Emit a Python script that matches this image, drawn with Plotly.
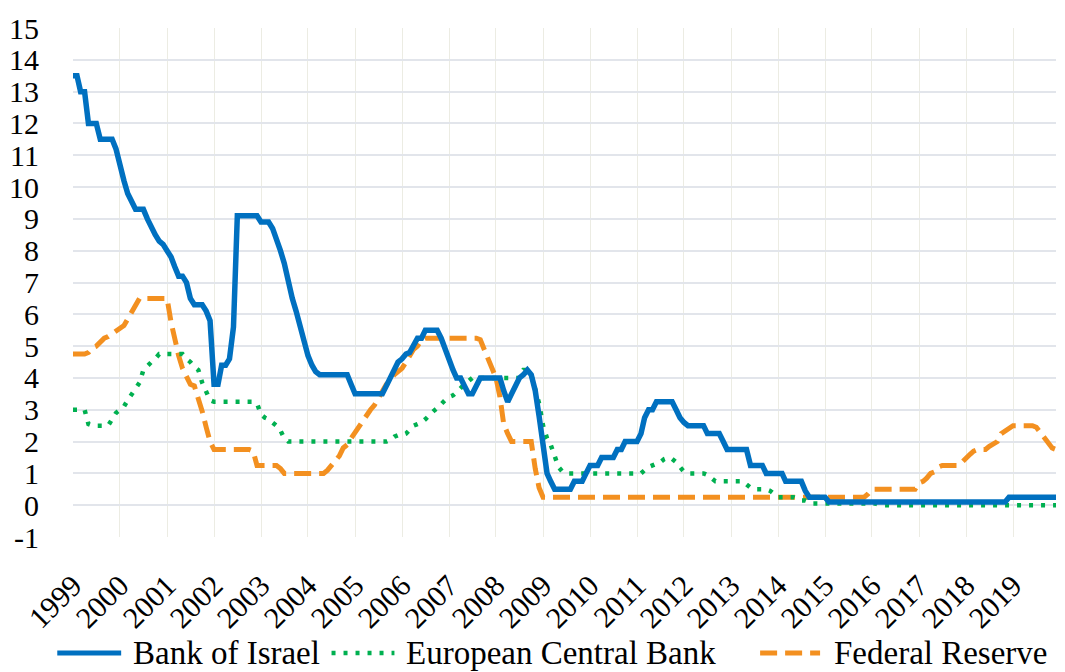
import pandas as pd
import plotly.graph_objects as go

# Monthly policy rates, Jan 1999 - Dec 2019 (12 values per row = one year)
months = pd.date_range("1999-01-01", "2019-12-01", freq="MS")

bank_of_israel = [
    13.5, 13.5, 13.0, 13.0, 12.0, 12.0, 12.0, 11.5, 11.5, 11.5, 11.5, 11.2,   # 1999
    10.6, 10.2, 9.8, 9.5, 9.3, 9.3, 9.3, 9.0, 8.7, 8.5, 8.3, 8.2,             # 2000
    8.0, 7.8, 7.5, 7.2, 7.2, 7.0, 6.5, 6.3, 6.3, 6.3, 6.1, 5.8,               # 2001
    3.8, 3.8, 4.4, 4.4, 4.6, 5.6, 9.1, 9.1, 9.1, 9.1, 9.1, 9.1,               # 2002
    8.9, 8.9, 8.9, 8.7, 8.4, 8.0, 7.6, 7.0, 6.5, 6.1, 5.6, 5.2,               # 2003
    4.7, 4.4, 4.2, 4.1, 4.1, 4.1, 4.1, 4.1, 4.1, 4.1, 4.1, 3.8,               # 2004
    3.5, 3.5, 3.5, 3.5, 3.5, 3.5, 3.5, 3.5, 3.75, 4.0, 4.25, 4.5,             # 2005
    4.6, 4.75, 4.8, 5.0, 5.25, 5.25, 5.5, 5.5, 5.5, 5.5, 5.25, 4.9,           # 2006
    4.5, 4.25, 4.0, 4.0, 3.75, 3.5, 3.5, 3.75, 4.0, 4.0, 4.0, 4.0,            # 2007
    4.0, 4.0, 3.6, 3.25, 3.5, 3.75, 4.0, 4.1, 4.25, 4.1, 3.6, 2.8,            # 2008
    1.9, 1.0, 0.75, 0.5, 0.5, 0.5, 0.5, 0.5, 0.75, 0.75, 0.75, 1.0,           # 2009
    1.25, 1.25, 1.25, 1.5, 1.5, 1.5, 1.5, 1.75, 1.75, 2.0, 2.0, 2.0,          # 2010
    2.0, 2.25, 2.75, 3.0, 3.0, 3.25, 3.25, 3.25, 3.25, 3.25, 3.0, 2.75,       # 2011
    2.6, 2.5, 2.5, 2.5, 2.5, 2.5, 2.25, 2.25, 2.25, 2.25, 2.0, 1.75,          # 2012
    1.75, 1.75, 1.75, 1.75, 1.75, 1.25, 1.25, 1.25, 1.25, 1.0, 1.0, 1.0,      # 2013
    1.0, 1.0, 0.75, 0.75, 0.75, 0.75, 0.75, 0.45, 0.25, 0.25, 0.25, 0.25,     # 2014
    0.25, 0.1, 0.1, 0.1, 0.1, 0.1, 0.1, 0.1, 0.1, 0.1, 0.1, 0.1,              # 2015
    0.1, 0.1, 0.1, 0.1, 0.1, 0.1, 0.1, 0.1, 0.1, 0.1, 0.1, 0.1,               # 2016
    0.1, 0.1, 0.1, 0.1, 0.1, 0.1, 0.1, 0.1, 0.1, 0.1, 0.1, 0.1,               # 2017
    0.1, 0.1, 0.1, 0.1, 0.1, 0.1, 0.1, 0.1, 0.1, 0.1, 0.1, 0.25,              # 2018
    0.25, 0.25, 0.25, 0.25, 0.25, 0.25, 0.25, 0.25, 0.25, 0.25, 0.25, 0.25,   # 2019
]

european_central_bank = [
    3.0, 3.0, 3.0, 3.0, 2.55, 2.5, 2.5, 2.5, 2.5, 2.5, 2.7, 2.9,              # 1999
    3.0, 3.1, 3.3, 3.5, 3.7, 3.85, 4.25, 4.4, 4.5, 4.6, 4.75, 4.75,           # 2000
    4.75, 4.75, 4.75, 4.75, 4.75, 4.6, 4.5, 4.35, 4.25, 3.85, 3.6, 3.3,       # 2001
    3.25, 3.25, 3.25, 3.25, 3.25, 3.25, 3.25, 3.25, 3.25, 3.25, 3.25, 3.2,    # 2002
    2.85, 2.75, 2.7, 2.6, 2.5, 2.35, 2.1, 2.0, 2.0, 2.0, 2.0, 2.0,            # 2003
    2.0, 2.0, 2.0, 2.0, 2.0, 2.0, 2.0, 2.0, 2.0, 2.0, 2.0, 2.0,               # 2004
    2.0, 2.0, 2.0, 2.0, 2.0, 2.0, 2.0, 2.0, 2.0, 2.05, 2.15, 2.2,             # 2005
    2.2, 2.25, 2.35, 2.5, 2.55, 2.6, 2.7, 2.85, 2.95, 3.05, 3.2, 3.3,         # 2006
    3.4, 3.45, 3.55, 3.7, 3.8, 3.9, 4.0, 4.0, 4.0, 4.0, 4.0, 4.0,             # 2007
    4.0, 4.0, 4.0, 4.0, 4.0, 4.0, 4.0, 4.25, 4.25, 4.1, 3.6, 3.2,             # 2008
    2.5, 2.1, 1.9, 1.5, 1.2, 1.05, 1.0, 1.0, 1.0, 1.0, 1.0, 1.0,              # 2009
    1.0, 1.0, 1.0, 1.0, 1.0, 1.0, 1.0, 1.0, 1.0, 1.0, 1.0, 1.0,               # 2010
    1.0, 1.0, 1.1, 1.2, 1.25, 1.3, 1.35, 1.45, 1.5, 1.45, 1.35, 1.2,          # 2011
    1.05, 1.0, 1.0, 1.0, 1.0, 1.0, 0.95, 0.85, 0.75, 0.75, 0.75, 0.75,        # 2012
    0.75, 0.75, 0.75, 0.75, 0.65, 0.55, 0.5, 0.5, 0.5, 0.5, 0.45, 0.35,       # 2013
    0.25, 0.25, 0.25, 0.25, 0.25, 0.2, 0.15, 0.15, 0.1, 0.05, 0.05, 0.05,     # 2014
    0.05, 0.05, 0.05, 0.05, 0.05, 0.05, 0.05, 0.05, 0.05, 0.05, 0.05, 0.05,   # 2015
    0.05, 0.05, 0.0, 0.0, 0.0, 0.0, 0.0, 0.0, 0.0, 0.0, 0.0, 0.0,             # 2016
    0.0, 0.0, 0.0, 0.0, 0.0, 0.0, 0.0, 0.0, 0.0, 0.0, 0.0, 0.0,               # 2017
    0.0, 0.0, 0.0, 0.0, 0.0, 0.0, 0.0, 0.0, 0.0, 0.0, 0.0, 0.0,               # 2018
    0.0, 0.0, 0.0, 0.0, 0.0, 0.0, 0.0, 0.0, 0.0, 0.0, 0.0, 0.0,               # 2019
]

federal_reserve = [
    4.75, 4.75, 4.75, 4.75, 4.8, 4.95, 5.0, 5.15, 5.25, 5.3, 5.4, 5.5,        # 1999
    5.55, 5.65, 5.85, 6.05, 6.3, 6.5, 6.5, 6.5, 6.5, 6.5, 6.5, 6.5,           # 2000
    6.5, 5.75, 5.2, 4.7, 4.3, 4.0, 3.8, 3.75, 3.4, 2.95, 2.45, 2.0,           # 2001
    1.75, 1.75, 1.75, 1.75, 1.75, 1.75, 1.75, 1.75, 1.75, 1.75, 1.7, 1.25,    # 2002
    1.25, 1.25, 1.25, 1.25, 1.25, 1.15, 1.0, 1.0, 1.0, 1.0, 1.0, 1.0,         # 2003
    1.0, 1.0, 1.0, 1.0, 1.0, 1.1, 1.25, 1.35, 1.55, 1.8, 1.9, 2.1,            # 2004
    2.3, 2.45, 2.65, 2.85, 3.0, 3.15, 3.35, 3.55, 3.8, 3.9, 4.1, 4.2,         # 2005
    4.3, 4.5, 4.7, 4.9, 5.0, 5.2, 5.25, 5.25, 5.25, 5.25, 5.25, 5.25,         # 2006
    5.25, 5.25, 5.25, 5.25, 5.25, 5.25, 5.25, 5.25, 5.2, 4.9, 4.6, 4.35,      # 2007
    4.0, 3.4, 2.55, 2.25, 2.0, 2.0, 2.0, 2.0, 2.0, 2.0, 1.15, 0.55,           # 2008
    0.25, 0.25, 0.25, 0.25, 0.25, 0.25, 0.25, 0.25, 0.25, 0.25, 0.25, 0.25,   # 2009
    0.25, 0.25, 0.25, 0.25, 0.25, 0.25, 0.25, 0.25, 0.25, 0.25, 0.25, 0.25,   # 2010
    0.25, 0.25, 0.25, 0.25, 0.25, 0.25, 0.25, 0.25, 0.25, 0.25, 0.25, 0.25,   # 2011
    0.25, 0.25, 0.25, 0.25, 0.25, 0.25, 0.25, 0.25, 0.25, 0.25, 0.25, 0.25,   # 2012
    0.25, 0.25, 0.25, 0.25, 0.25, 0.25, 0.25, 0.25, 0.25, 0.25, 0.25, 0.25,   # 2013
    0.25, 0.25, 0.25, 0.25, 0.25, 0.25, 0.25, 0.25, 0.25, 0.25, 0.25, 0.25,   # 2014
    0.25, 0.25, 0.25, 0.25, 0.25, 0.25, 0.25, 0.25, 0.25, 0.25, 0.25, 0.35,   # 2015
    0.5, 0.5, 0.5, 0.5, 0.5, 0.5, 0.5, 0.5, 0.5, 0.5, 0.5, 0.5,               # 2016
    0.7, 0.75, 0.85, 1.0, 1.05, 1.2, 1.25, 1.25, 1.25, 1.25, 1.25, 1.35,      # 2017
    1.5, 1.6, 1.7, 1.75, 1.75, 1.75, 1.85, 1.95, 2.0, 2.25, 2.35, 2.45,       # 2018
    2.5, 2.5, 2.5, 2.5, 2.5, 2.5, 2.45, 2.3, 2.1, 1.95, 1.8, 1.75,            # 2019
]

series_names = ["Bank of Israel", "European Central Bank", "Federal Reserve"]
y_ticks = list(range(-1, 16))

FONT = "Liberation Serif"
BLUE, GREEN, ORANGE = "#0070C0", "#00B050", "#F39020"

fig = go.Figure()
fig.add_trace(go.Scatter(x=months, y=federal_reserve, name=series_names[2], mode="lines",
                         line=dict(color=ORANGE, width=5, dash="17px,8px")))
fig.add_trace(go.Scatter(x=months, y=european_central_bank, name=series_names[1], mode="lines",
                         line=dict(color=GREEN, width=4.5, dash="4px,8px")))
fig.add_trace(go.Scatter(x=months, y=bank_of_israel, name=series_names[0], mode="lines",
                         line=dict(color=BLUE, width=5.5)))

# manual legend (long line samples like the original)
leg_y = -0.228
legend_items = [
    (series_names[0], BLUE, None, 5, -0.016, 0.049, 0.059),
    (series_names[1], GREEN, "4px,8px", 4.5, 0.263, 0.327, 0.337),
    (series_names[2], ORANGE, "17px,8px", 5, 0.699, 0.760, 0.772),
]
for name, col, dash, w, x0, x1, xt in legend_items:
    line = dict(color=col, width=w)
    if dash:
        line["dash"] = dash
    fig.add_shape(type="line", xref="paper", yref="paper", x0=x0, x1=x1,
                  y0=leg_y, y1=leg_y, line=line)
    fig.add_annotation(xref="paper", yref="paper", x=xt, y=leg_y, text=name,
                       showarrow=False, xanchor="left", yanchor="middle",
                       font=dict(family=FONT, size=33, color="black"))

fig.update_layout(
    width=1065, height=672,
    margin=dict(l=73, r=9, t=28, b=135, autoexpand=False),
    paper_bgcolor="white", plot_bgcolor="white",
    showlegend=False,
    font=dict(family=FONT, color="black"),
)
fig.update_xaxes(
    type="date", range=["1999-01-01", "2019-12-01"],
    tick0="1999-01-01", dtick="M12", tickformat="%Y", tickangle=-45,
    showgrid=True, gridcolor="#ECECE3", gridwidth=1,
    ticks="outside", ticklen=18, tickcolor="rgba(0,0,0,0)",
    tickfont=dict(family=FONT, size=30, color="black"),
    showline=False, zeroline=False, automargin=False,
)
fig.update_yaxes(
    range=[-1, 15], tickmode="array", tickvals=y_ticks,
    ticktext=[str(v) for v in y_ticks],
    showgrid=True, gridcolor="#E2E5EB", gridwidth=1.5,
    ticks="outside", ticklen=27, tickcolor="rgba(0,0,0,0)",
    tickfont=dict(family=FONT, size=30, color="black"),
    showline=False, zeroline=False, automargin=False,
)

fig.write_html("out.html", config={"displayModeBar": False},
               post_script="document.body.style.margin='0px';document.body.style.padding='0px';")
